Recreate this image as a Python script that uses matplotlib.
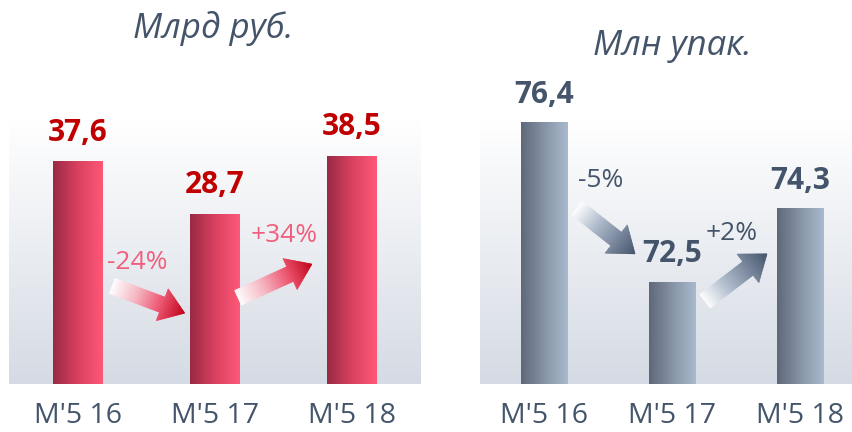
import numpy as np
import matplotlib.pyplot as plt
from matplotlib.colors import LinearSegmentedColormap
from matplotlib.patches import Polygon
from matplotlib.transforms import IdentityTransform

plt.rcParams['font.family'] = ['Open Sans', 'DejaVu Sans']

PERIODS = ["M'5 16", "M'5 17", "M'5 18"]
RUB_BN = [37.6, 28.7, 38.5]          # Млрд руб.
PACKS_MLN = [76.4, 72.5, 74.3]       # Млн упак.
RUB_CHANGE = ["-24%", "+34%"]
PACKS_CHANGE = ["-5%", "+2%"]

SLATE = '#44546A'
W, H = 853, 432


def fmt(v):
    return f"{v:.1f}".replace('.', ',')


def background(ax, top='#FFFFFF', bottom='#D5DBE4'):
    cmap = LinearSegmentedColormap.from_list('bg', [bottom, top])
    grad = np.linspace(0, 1, 256).reshape(-1, 1)
    ax.imshow(grad, extent=(0, 1, 0, 1), transform=ax.transAxes, origin='lower',
              cmap=cmap, aspect='auto', zorder=0)


def gradient_bars(ax, x, vals, base, width, colors):
    cmap = LinearSegmentedColormap.from_list('bar', colors)
    grad = np.linspace(0, 1, 256).reshape(1, -1)
    bars = ax.bar(x, np.array(vals) - base, bottom=base, width=width,
                  color='none', zorder=2)
    for b in bars:
        ax.imshow(grad, extent=(b.get_x(), b.get_x() + b.get_width(),
                                b.get_y(), b.get_y() + b.get_height()),
                  cmap=cmap, aspect='auto', zorder=2)
    return bars


def gradient_arrow(ax, start, end, colors, shaft=16, head_w=34, head_len=24, n=50):
    p0 = ax.transData.transform(start)
    p1 = ax.transData.transform(end)
    d = p1 - p0
    length = np.hypot(*d)
    u = d / length
    nv = np.array([-u[1], u[0]])
    cmap = LinearSegmentedColormap.from_list('arr', colors)
    hs = length - head_len

    def strip(a, b, wa, wb):
        quad = [p0 + u * a + nv * wa, p0 + u * b + nv * wb,
                p0 + u * b - nv * wb, p0 + u * a - nv * wa]
        c = cmap((a + b) / 2 / length)
        ax.add_patch(Polygon(quad, closed=True, transform=IdentityTransform(),
                             fc=c, ec=c, lw=0.5, zorder=3))

    ts = np.linspace(0, hs, n)
    for a, b in zip(ts[:-1], ts[1:]):
        strip(a, b, shaft / 2, shaft / 2)
    ts = np.linspace(hs, length, 20)
    for a, b in zip(ts[:-1], ts[1:]):
        strip(a, b, head_w / 2 * (length - a) / head_len,
              head_w / 2 * (length - b) / head_len)


fig = plt.figure(figsize=(W / 100, H / 100), dpi=100)
fig.patch.set_facecolor('white')

axL = fig.add_axes([9 / W, 48 / H, 412 / W, 264 / H])
axR = fig.add_axes([480 / W, 48 / H, 373 / W, 266 / H])

x = np.arange(len(PERIODS))

# --- left: billion rubles ---
background(axL)
gradient_bars(axL, x, RUB_BN, 0, 0.365, ['#982A44', '#D9415F', '#FF5878'])
axL.set_xlim(-0.505, 2.508)
axL.set_ylim(0, 44.7)
for xi, v in zip(x, RUB_BN):
    axL.annotate(fmt(v), (xi, v), xytext=(0, 21), textcoords='offset points',
                 ha='center', va='center', fontsize=21.5, fontweight='bold',
                 color='#C00000', annotation_clip=False, zorder=4)

# --- right: million packs ---
background(axR)
gradient_bars(axR, x, PACKS_MLN, 70, 0.36, ['#5E6878', '#8794A6', '#AABACE'])
axR.set_xlim(-0.5, 2.414)
axR.set_ylim(70, 76.52)
for xi, v in zip(x, PACKS_MLN):
    axR.annotate(fmt(v), (xi, v), xytext=(0, 20), textcoords='offset points',
                 ha='center', va='center', fontsize=21.5, fontweight='bold',
                 color=SLATE, annotation_clip=False, zorder=4)

for ax in (axL, axR):
    for s in ax.spines.values():
        s.set_visible(False)
    ax.set_yticks([])
    ax.set_xticks(x)
    ax.set_xticklabels(PERIODS, fontsize=20.5, color=SLATE)
    ax.tick_params(axis='x', length=0, pad=13)

fig.canvas.draw()

# change arrows and labels
gradient_arrow(axL, (0.25, 16.6), (0.78, 12.0),
               ['#FFFFFF', '#F6B8C4', '#EE5570', '#C00018'])
gradient_arrow(axL, (1.17, 14.6), (1.71, 20.3),
               ['#FFFFFF', '#F6B8C4', '#EE5570', '#C00018'])
axL.text(0.43, 20.5, RUB_CHANGE[0], ha='center', va='center',
         fontsize=19, color='#F0607E', zorder=4)
axL.text(1.506, 25.1, RUB_CHANGE[1], ha='center', va='center',
         fontsize=19, color='#F0607E', zorder=4)

gradient_arrow(axR, (0.258, 74.31), (0.711, 73.19),
               ['#FFFFFF', '#B4C0D0', '#7C8AA0', '#44546A'], shaft=17, head_w=36)
gradient_arrow(axR, (1.258, 72.03), (1.742, 73.19),
               ['#FFFFFF', '#B4C0D0', '#7C8AA0', '#44546A'], shaft=17, head_w=36)
axR.text(0.445, 75.0, PACKS_CHANGE[0], ha='center', va='center',
         fontsize=19, color=SLATE, zorder=4)
axR.text(1.469, 73.68, PACKS_CHANGE[1], ha='center', va='center',
         fontsize=19, color=SLATE, zorder=4)

fig.text(213 / W, 1 - 28 / H, 'Млрд руб.', ha='center', va='center',
         fontsize=25, style='italic', color=SLATE)
fig.text(672 / W, 1 - 46 / H, 'Млн упак.', ha='center', va='center',
         fontsize=25, style='italic', color=SLATE)

fig.savefig('out.png', dpi=100)
